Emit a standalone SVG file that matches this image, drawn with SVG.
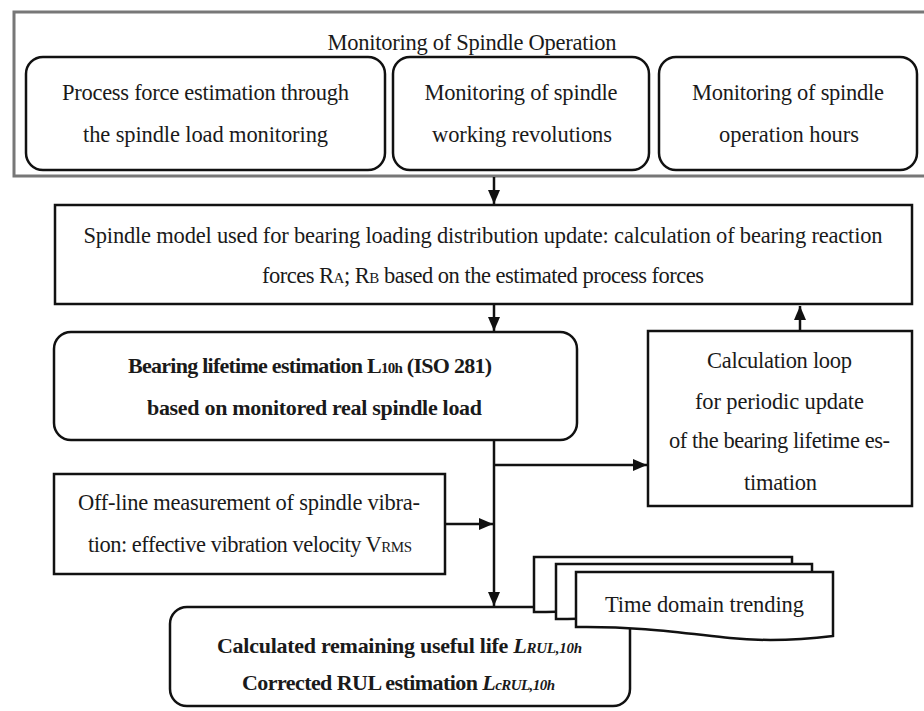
<svg xmlns="http://www.w3.org/2000/svg" width="924" height="711" viewBox="0 0 924 711">
<defs>
<style>
.t{font-family:"Liberation Serif","Times New Roman",serif;font-size:22.5px;fill:#1a1a1a;text-anchor:middle}
.b{font-weight:bold;font-size:22px}
.box{fill:#fff;stroke:#111;stroke-width:2.5}
.rbox{fill:#fff;stroke:#111;stroke-width:2.5}
.con{fill:none;stroke:#111;stroke-width:2.5}
.sm{font-size:15px}
</style>
<marker id="ah" viewBox="0 0 14 12" refX="14" refY="6" markerWidth="14" markerHeight="12" markerUnits="userSpaceOnUse" orient="auto">
<path d="M0,0 L14,6 L0,12 z" fill="#111"/>
</marker>
</defs>
<rect width="924" height="711" fill="#fff"/>

<g id="monitoring-group">
<rect x="14" y="12" width="914" height="164" fill="#fff" stroke="#777" stroke-width="3"/>
<text class="t" x="472" y="50" textLength="289">Monitoring of Spindle Operation</text>
</g>

<g id="process-force">
<rect class="rbox" x="26" y="57" width="359" height="113" rx="17"/>
<text class="t" x="205.5" y="100" textLength="287">Process force estimation through</text>
<text class="t" x="205.5" y="142" textLength="245">the spindle load monitoring</text>
</g>

<g id="working-revolutions">
<rect class="rbox" x="393" y="57" width="256" height="113" rx="17"/>
<text class="t" x="521" y="100" textLength="193">Monitoring of spindle</text>
<text class="t" x="522" y="142" textLength="180">working revolutions</text>
</g>

<g id="operation-hours">
<rect class="rbox" x="659" y="57" width="258" height="113" rx="17"/>
<text class="t" x="788" y="100" textLength="192">Monitoring of spindle</text>
<text class="t" x="789" y="142" textLength="140">operation hours</text>
</g>

<g id="spindle-model">
<rect class="box" x="55" y="205" width="857" height="99"/>
<text class="t" x="483" y="243" textLength="799">Spindle model used for bearing loading distribution update: calculation of bearing reaction</text>
<text class="t" x="483" y="283" textLength="442">forces R<tspan class="sm">A</tspan>; R<tspan class="sm">B</tspan> based on the estimated process forces</text>
</g>

<g id="bearing-lifetime">
<rect class="rbox" x="54" y="332" width="523" height="108" rx="17"/>
<text class="t b" x="310" y="373" textLength="364">Bearing lifetime estimation L<tspan class="sm">10h</tspan> (ISO 281)</text>
<text class="t b" x="314.5" y="415" textLength="335">based on monitored real spindle load</text>
</g>

<g id="calculation-loop">
<rect class="box" x="648" y="331" width="264" height="175"/>
<text class="t" x="779.5" y="368" textLength="145">Calculation loop</text>
<text class="t" x="779.5" y="409" textLength="169">for periodic update</text>
<text class="t" x="779.5" y="448" textLength="221">of the bearing lifetime es-</text>
<text class="t" x="780.5" y="490" textLength="73">timation</text>
</g>

<g id="offline-measurement">
<rect class="box" x="54" y="474" width="391" height="100"/>
<text class="t" x="249" y="510" textLength="342">Off-line measurement of spindle vibra-</text>
<text class="t" x="250" y="552" textLength="324">tion: effective vibration velocity V<tspan class="sm">RMS</tspan></text>
</g>

<g id="rul">
<rect class="rbox" x="170" y="607" width="460" height="99" rx="17"/>
<text class="t b" x="399.5" y="653" textLength="365">Calculated remaining useful life <tspan font-style="italic">L<tspan class="sm">RUL,10h</tspan></tspan></text>
<text class="t b" x="398.5" y="690" textLength="313">Corrected RUL estimation <tspan font-style="italic">L<tspan class="sm">cRUL,10h</tspan></tspan></text>
</g>

<g id="time-domain-trending">
<path class="box" d="M534,612 L534,557 L792,557 L792,610 C760,612 720,618 690,614 C640,607 580,612 534,612 Z"/>
<path class="box" d="M556,619 L556,564 L812,564 L812,617 C780,619 740,625 710,621 C660,614 600,619 556,619 Z"/>
<path class="box" d="M576,627 L576,572 L833,572 L833,636 C800,640 760,641 730,638 C690,634 640,626 576,627 Z"/>
<text class="t" x="704.5" y="612" textLength="199">Time domain trending</text>
</g>

<g id="connectors">
<line class="con" x1="494" y1="177" x2="494" y2="204" marker-end="url(#ah)"/>
<line class="con" x1="494" y1="305" x2="494" y2="331" marker-end="url(#ah)"/>
<line class="con" x1="800" y1="331" x2="800" y2="306" marker-end="url(#ah)"/>
<line class="con" x1="494" y1="441" x2="494" y2="606" marker-end="url(#ah)"/>
<line class="con" x1="494" y1="465" x2="647" y2="465" marker-end="url(#ah)"/>
<line class="con" x1="445" y1="524" x2="493" y2="524" marker-end="url(#ah)"/>
</g>
</svg>
